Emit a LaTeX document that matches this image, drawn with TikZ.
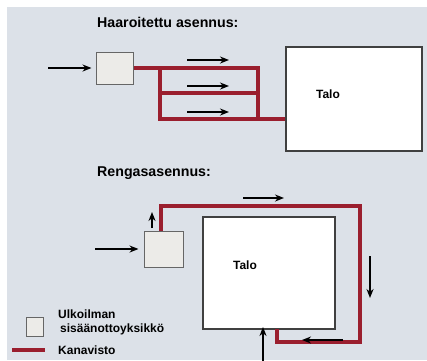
\documentclass[tikz,border=0pt]{standalone}
\usepackage{fontspec}
\setmainfont{Liberation Sans}
\usetikzlibrary{arrows.meta}
\definecolor{bgpanel}{HTML}{DCE1E8}
\definecolor{ductred}{HTML}{9A1E2E}
\definecolor{unitfill}{HTML}{ECEBE8}
\tikzset{
  unit/.style={draw=black!60, fill=unitfill, line width=1pt, minimum width=#1, inner sep=0pt},
  house/.style={draw=black!75, fill=white, line width=1.3pt, inner sep=0pt},
  duct/.style={draw=ductred, line width=4.6pt, line join=miter},
  flow/.style={draw=black, line width=1.6pt, -{Stealth[length=9pt,width=7pt]}},
  title/.style={font=\bfseries\fontsize{14.2}{16}\selectfont, anchor=west, inner sep=0pt},
  label/.style={font=\bfseries\fontsize{12}{13.5}\selectfont, inner sep=0pt},
}
\begin{document}
\begin{tikzpicture}[x=1pt, y=-1pt]
\useasboundingbox (0,0) rectangle (427,360);
\fill[white] (0,0) rectangle (427,360);
\fill[bgpanel] (7,7) rectangle (427,360);

% ---------- branched layout ----------
\node[title] (t1) at (97,22) {Haaroitettu asennus:};
\node[unit=37pt, minimum height=32pt] (uA) at (114.5,68) {};
\node[house, minimum width=136pt, minimum height=104pt] (hA) at (354,99) {};
\node[label] (talA) at (328,94) {Talo};

\coordinate (a1) at (160,68);
\coordinate (a2) at (258,68);
\coordinate (a3) at (160,93);
\coordinate (a4) at (258,93);
\coordinate (a5) at (160,119);
\coordinate (a6) at (258,119);
\coordinate (a7) at (hA.west |- a5);
\draw[duct] (uA.east |- a1) -- (a2) -- (a6);
\draw[duct] (a1) -- (a5) -- (a7);
\draw[duct] (a3) -- (a4);

\coordinate (inA0) at (48,68);
\draw[flow, shorten >=4pt] (inA0) -- (uA.west);
\coordinate (fa1) at (187,60);  \coordinate (fa2) at (229,60);
\coordinate (fb1) at (187,86);  \coordinate (fb2) at (229,86);
\coordinate (fc1) at (187,112); \coordinate (fc2) at (229,112);
\draw[flow] (fa1) -- (fa2);
\draw[flow] (fb1) -- (fb2);
\draw[flow] (fc1) -- (fc2);

% ---------- ring layout ----------
\node[title] (t2) at (97,173) {Rengasasennus:};
\node[unit=39pt, minimum height=36pt] (uB) at (163.5,249) {};
\node[house, minimum width=132pt, minimum height=112pt] (hB) at (269,273) {};
\node[label] (talB) at (245,265) {Talo};

\coordinate (b0) at (161,231);
\coordinate (b1) at (161,206);
\coordinate (b2) at (360,206);
\coordinate (b3) at (360,342);
\coordinate (b4) at (277,342);
\coordinate (b5) at (277,329);
\draw[duct] (b0) -- (b1) -- (b2) -- (b3) -- (b4) -- (b5);

\coordinate (inB0) at (95,249);
\draw[flow, shorten >=5pt] (inB0) -- (uB.west);
\coordinate (up0) at (152,228); \coordinate (up1) at (152,212);
\draw[flow] (up0) -- (up1);
\coordinate (r0) at (243,198); \coordinate (r1) at (284,198);
\draw[flow] (r0) -- (r1);
\coordinate (d0) at (370,256); \coordinate (d1) at (370,298);
\draw[flow] (d0) -- (d1);
\coordinate (l0) at (343,340); \coordinate (l1) at (302,340);
\draw[flow] (l0) -- (l1);
\coordinate (u0) at (263,362); \coordinate (u1) at (263,327);
\draw[flow] (u0) -- (u1);

% ---------- legend ----------
\node[unit=17pt, minimum height=19pt] (lgU) at (34.5,326.5) {};
\node[label, anchor=west] (lgT1) at (58,314) {Ulkoilman};
\node[label, anchor=west] (lgT2) at (60,329) {sisäänottoyksikkö};
\coordinate (lg0) at (12,350); \coordinate (lg1) at (45,350);
\draw[duct] (lg0) -- (lg1);
\node[label, anchor=west] (lgT3) at (58,350) {Kanavisto};
\end{tikzpicture}
\end{document}
